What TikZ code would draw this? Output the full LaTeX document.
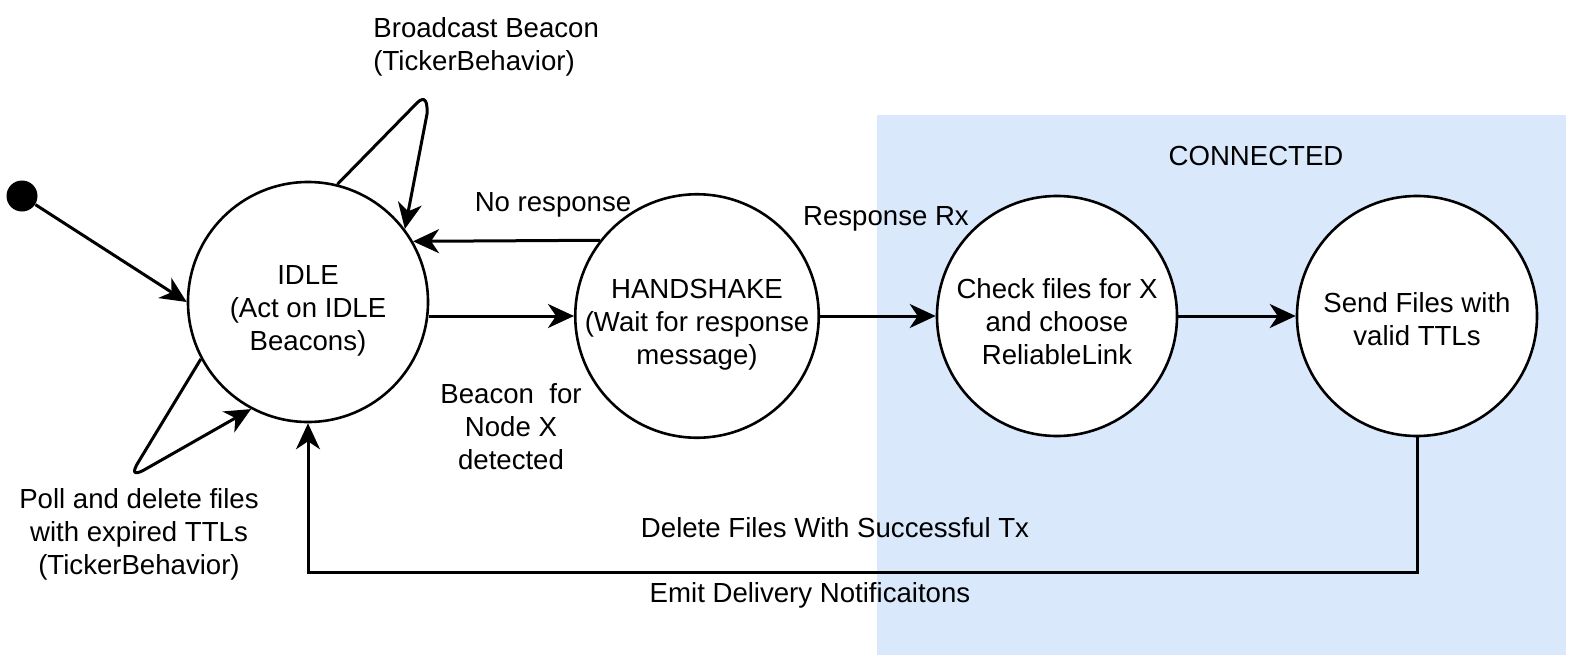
\documentclass[tikz,border=0pt]{standalone}
\usepackage{fontspec}
\setmainfont{Liberation Sans}
\usepackage{tikz}
\usetikzlibrary{arrows.meta}
\definecolor{connBlue}{RGB}{218, 232, 252}

\begin{document}
\begin{tikzpicture}[x=0.5pt, y=-0.5pt,
    font=\fontsize{13.8}{16.5}\selectfont,
    state/.style={circle, draw, line width=1.3pt, fill=white,
      minimum size=120pt, inner sep=0pt, align=center,
      text height=48pt, text depth=0pt},
    flow/.style={-{Stealth[length=13pt, width=12pt, inset=4pt]}, line width=1.5pt},
    lbl/.style={inner sep=0pt, align=center}]
  \useasboundingbox (0,0) rectangle (1569,669);
  % connected region
  \fill[connBlue] (877,115) rectangle (1566,655);
  \node[lbl, anchor=base] (connLbl) at (1256,165) {CONNECTED};
  % states
  \node[circle, fill=black, minimum size=15.5pt, inner sep=0pt] (start) at (22,196) {};
  \node[state] (idle) at (308,302) {IDLE\\(Act on IDLE\\Beacons)};
  \node[state] (hand) at (697,316) {HANDSHAKE\\(Wait for response\\message)};
  \node[state] (check) at (1057,316) {Check files for X\\and choose\\ReliableLink};
  \node[state, text height=29.5pt] (send) at (1417,316) {Send Files with\\valid TTLs};
  % transitions
  \draw[flow] (start) -- (idle.west);
  \draw[flow] (idle.76) -- (415,105) .. controls (422,97) and (428,96) .. (427,114) -- (idle.37);
  \draw[flow] (idle.208) -- (139,461) .. controls (132,472) and (133,476) .. (144,470) -- (idle.242);
  \draw[flow] (hand.west -| idle.east) -- (hand.west);
  \draw[flow] (hand.142) -- (idle.30);
  \draw[flow] (hand.east) -- (check.west);
  \draw[flow] (check.east) -- (send.west);
  \coordinate (bottomRun) at (0,572);
  \draw[flow] (send.south) -- (send.south |- bottomRun) -- (idle.south |- bottomRun) -- (idle.south);
  % labels
  \node[lbl, anchor=north west, align=left] (bcastLbl) at (373,17) {Broadcast Beacon\\(TickerBehavior)};
  \node[lbl, anchor=north] (pollLbl) at (139,488) {Poll and delete files\\with expired TTLs\\(TickerBehavior)};
  \node[lbl, anchor=base] (noRespLbl) at (553,211) {No response};
  \node[lbl, anchor=north] (beaconLbl) at (511,383) {Beacon\ \ for\\Node X\\detected};
  \node[lbl, anchor=base] (respLbl) at (886,225) {Response Rx};
  \node[lbl, anchor=base] (deleteLbl) at (835,537) {Delete Files With Successful Tx};
  \node[lbl, anchor=base] (emitLbl) at (810,602) {Emit Delivery Notificaitons};
\end{tikzpicture}
\end{document}
